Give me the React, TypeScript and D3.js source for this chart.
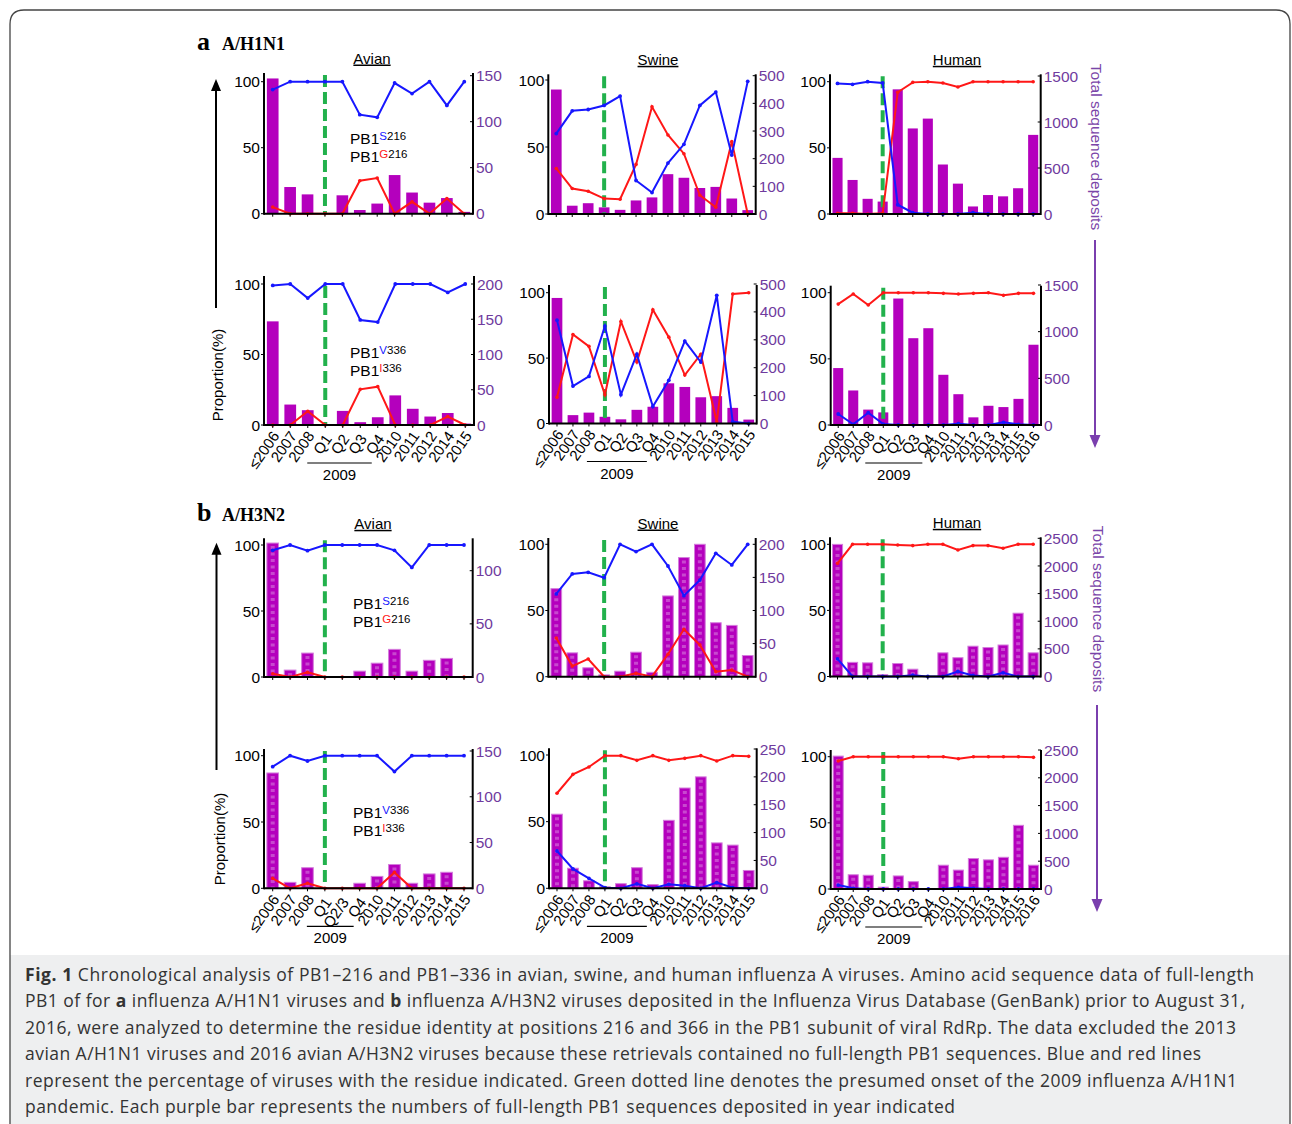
import * as d3 from "d3";

// categories (x axis)
const catsH1Avian = ["≤2006", "2007", "2008", "Q1", "Q2", "Q3", "Q4", "2010", "2011", "2012", "2014", "2015"];
const catsSwine = ["≤2006", "2007", "2008", "Q1", "Q2", "Q3", "Q4", "2010", "2011", "2012", "2013", "2014", "2015"];
const catsHuman = ["≤2006", "2007", "2008", "Q1", "Q2", "Q3", "Q4", "2010", "2011", "2012", "2013", "2014", "2015", "2016"];
const catsH3Avian = ["≤2006", "2007", "2008", "Q1", "Q2/3", "Q4", "2010", "2011", "2012", "2013", "2014", "2015"];

// total sequence deposits (bars, right axis)
const h1AvianCounts = [147, 29, 21, 0, 20, 4, 11, 42, 23, 12, 17, 2];
const h1SwineCounts = [450, 30, 39, 24, 15, 49, 60, 144, 131, 94, 98, 56, 14];
const h1HumanCounts = [610, 370, 165, 135, 1355, 930, 1037, 538, 330, 82, 206, 192, 280, 860];
const h3AvianCounts = [126, 6.5, 22.5, 0, 0, 5.5, 13, 26, 5.5, 15.7, 17.5, 0];
const h3SwineCounts = [133, 36, 13.5, 2.7, 8.3, 37, 6.6, 122, 180, 200, 81.5, 77.5, 32];
const h3HumanCounts = [2390, 256, 247, 33, 235, 132, 0, 428, 340, 548, 524, 570, 1145, 428];

// proportions (%), blue / red
const h1AvianS216 = [94, 100, 100, 100, 100, 75, 73, 99, 91, 100, 82, 100];
const h1AvianG216 = [5, 0, 0, 0, 0, 25, 27, 0, 9, 0, 11.5, 0];
const h1AvianV336 = [99, 100, 90, 100, 100, 74.5, 73, 100, 100, 100, 94, 100];
const h1AvianI336 = [0, 0, 9.7, 0, 0, 25.3, 27.2, 0, 0, 0, 6, 0];
const h1SwineS216 = [60, 77, 78, 81, 88, 25, 16, 38, 52, 81, 91, 44, 99];
const h1SwineG216 = [34, 19, 17, 11.5, 11, 37, 80, 59, 45, 14, 5, 54, 0];
const h1SwineV336 = [79, 28.6, 36, 74.5, 22, 53, 13, 33, 63, 47, 98, 1.3, 0];
const h1SwineI336 = [20, 68, 59, 22, 78, 47, 87, 66, 37, 53, 1.3, 99, 100];
const h1HumanS216 = [98.7, 98, 100, 99, 7, 1, 0, 0, 0, 1, 0, 0, 0, 0];
const h1HumanG216 = [0.5, 0.5, 0, 0.5, 92, 99.5, 100, 99, 96, 100, 100, 100, 100, 100];
const h1HumanV336 = [8.3, 0.5, 9.3, 0.7, 0, 0, 0, 0, 1, 0, 0, 2, 0.5, 0];
const h1HumanI336 = [91.4, 99, 90.7, 100, 100, 100, 100, 99.5, 99, 99.5, 100, 98, 99.5, 99.5];
const h3AvianS216 = [96, 100, 95.7, 100, 100, 100, 100, 96, 83, 100, 100, 100];
const h3AvianG216 = [2.5, 0, 3.5, 0, 0, 0, 0, 0, 0, 0, 0, 0];
const h3AvianV336 = [91.7, 100, 96, 100, 100, 100, 100, 88, 100, 100, 100, 100];
const h3AvianI336 = [7.5, 0, 3.8, 0, 0, 0, 0, 12, 0, 0, 0, 0];
const h3SwineS216 = [62.5, 77.6, 78.8, 74.8, 100, 94.5, 100, 83.6, 61.2, 73, 93.2, 84.4, 100];
const h3SwineG216 = [29.2, 8, 13.4, 0, 0, 2.5, 0, 17, 35.8, 24, 3.8, 5, 0];
const h3SwineV336 = [28, 14.5, 7.5, 0.5, 0, 3.3, 0, 3, 2, 0, 4.3, 0.5, 0];
const h3SwineI336 = [71.3, 85.5, 91, 99.5, 99.5, 96, 99.5, 96, 97.5, 99.5, 95.5, 99.5, 99];
const h3HumanS216 = [13.4, 0, 0, 0, 0, 1, 0, 0, 3.8, 0.8, 0, 2.8, 0, 0];
const h3HumanG216 = [85.6, 100, 100, 100, 99.5, 99, 100, 100, 95.7, 99, 99, 97, 100, 100];
const h3HumanV336 = [3, 0.5, 0, 0, 0, 0, 0, 0, 1.3, 0.5, 0, 0, 0, 0];
const h3HumanI336 = [96.7, 100, 100, 100, 100, 100, 100, 100, 98.5, 100, 100, 100, 100, 99.5];

const captionLines = [
  "Chronological analysis of PB1–216 and PB1–336 in avian, swine, and human influenza A viruses. Amino acid sequence data of full-length",
  "2016, were analyzed to determine the residue identity at positions 216 and 366 in the PB1 subunit of viral RdRp. The data excluded the 2013",
  "avian A/H1N1 viruses and 2016 avian A/H3N2 viruses because these retrievals contained no full-length PB1 sequences. Blue and red lines",
  "represent the percentage of viruses with the residue indicated. Green dotted line denotes the presumed onset of the 2009 influenza A/H1N1",
  "pandemic. Each purple bar represents the numbers of full-length PB1 sequences deposited in year indicated",
];

const SANS = "'Liberation Sans', Arial, Helvetica, sans-serif";
const SERIF = "'Liberation Serif', 'Times New Roman', serif";
const BLUE = "#1717ff";
const RED = "#ff1717";
const GREEN = "#22b14c";
const BAR = "#b400bd";
const PURPLE = "#6f3b9e";

type PanelDef = {
  cats: string[];
  counts: number[];
  blue: number[];
  red: number[];
  xl: number; xr: number; y0: number; y100: number; top: number;
  rRef: number; rRefY: number; rTicks: number[];
  greenTop?: number;
  textured?: boolean;
  title?: string;
  titleX?: number;
  sup?: { a: string; b: string; pos: string; x: number; y: number };
  labels?: boolean;
};

const panels: PanelDef[] = [
  { cats: catsH1Avian, counts: h1AvianCounts, blue: h1AvianS216, red: h1AvianG216,
    xl: 264, xr: 473, y0: 213.7, y100: 81.7, top: 73, rRef: 150, rRefY: 75.7, rTicks: [0, 50, 100, 150],
    title: "Avian", titleX: 372, sup: { a: "S", b: "G", pos: "216", x: 350, y: 144 } },
  { cats: catsSwine, counts: h1SwineCounts, blue: h1SwineS216, red: h1SwineG216,
    xl: 548.3, xr: 755.7, y0: 214, y100: 80, top: 74.3, rRef: 500, rRefY: 75.7, rTicks: [0, 100, 200, 300, 400, 500],
    title: "Swine", titleX: 658 },
  { cats: catsHuman, counts: h1HumanCounts, blue: h1HumanS216, red: h1HumanG216,
    xl: 830, xr: 1040.7, y0: 214, y100: 81.7, top: 74.3, rRef: 1500, rRefY: 76, rTicks: [0, 500, 1000, 1500],
    title: "Human", titleX: 957 },
  { cats: catsH1Avian, counts: h1AvianCounts, blue: h1AvianV336, red: h1AvianI336,
    xl: 264, xr: 474, y0: 425, y100: 284, top: 276, rRef: 200, rRefY: 284, rTicks: [0, 50, 100, 150, 200],
    greenTop: 286, sup: { a: "V", b: "I", pos: "336", x: 350, y: 358 }, labels: true },
  { cats: catsSwine, counts: h1SwineCounts, blue: h1SwineV336, red: h1SwineI336,
    xl: 549, xr: 756.7, y0: 423.5, y100: 292.7, top: 285, rRef: 500, rRefY: 284, rTicks: [0, 100, 200, 300, 400, 500],
    labels: true },
  { cats: catsHuman, counts: h1HumanCounts, blue: h1HumanV336, red: h1HumanI336,
    xl: 830.7, xr: 1041, y0: 425, y100: 292.7, top: 285.7, rRef: 1500, rRefY: 285, rTicks: [0, 500, 1000, 1500],
    labels: true },
  { cats: catsH3Avian, counts: h3AvianCounts, blue: h3AvianS216, red: h3AvianG216,
    xl: 264, xr: 472.7, y0: 677, y100: 545, top: 538.3, rRef: 100, rRefY: 570.7, rTicks: [0, 50, 100],
    textured: true, title: "Avian", titleX: 373, sup: { a: "S", b: "G", pos: "216", x: 353, y: 609 } },
  { cats: catsSwine, counts: h3SwineCounts, blue: h3SwineS216, red: h3SwineG216,
    xl: 548.3, xr: 755.7, y0: 676.7, y100: 544.3, top: 538, rRef: 200, rRefY: 544.3, rTicks: [0, 50, 100, 150, 200],
    textured: true, title: "Swine", titleX: 658 },
  { cats: catsHuman, counts: h3HumanCounts, blue: h3HumanS216, red: h3HumanG216,
    xl: 830, xr: 1040.7, y0: 676.5, y100: 544.3, top: 537.3, rRef: 2500, rRefY: 538.3, rTicks: [0, 500, 1000, 1500, 2000, 2500],
    textured: true, title: "Human", titleX: 957 },
  { cats: catsH3Avian, counts: h3AvianCounts, blue: h3AvianV336, red: h3AvianI336,
    xl: 264, xr: 472.7, y0: 888.3, y100: 755.7, top: 749, rRef: 150, rRefY: 751, rTicks: [0, 50, 100, 150],
    textured: true, sup: { a: "V", b: "I", pos: "336", x: 353, y: 818 }, labels: true },
  { cats: catsSwine, counts: h3SwineCounts, blue: h3SwineV336, red: h3SwineI336,
    xl: 549, xr: 756.7, y0: 888.3, y100: 755, top: 748.3, rRef: 250, rRefY: 749, rTicks: [0, 50, 100, 150, 200, 250],
    textured: true, labels: true },
  { cats: catsHuman, counts: h3HumanCounts, blue: h3HumanV336, red: h3HumanI336,
    xl: 830.7, xr: 1041, y0: 889, y100: 756.7, top: 750, rRef: 2500, rRefY: 750, rTicks: [0, 500, 1000, 1500, 2000, 2500],
    textured: true, labels: true },
];

function Panel({ p }: { p: PanelDef }) {
  const x = d3.scaleBand<string>().domain(p.cats).range([p.xl, p.xr]).paddingInner(0.33).paddingOuter(0.165);
  const cx = (i: number) => (x(p.cats[i]) ?? 0) + x.bandwidth() / 2;
  const yL = d3.scaleLinear().domain([0, 100]).range([p.y0, p.y100]);
  const yR = d3.scaleLinear().domain([0, p.rRef]).range([p.y0, p.rRefY]);
  const line = d3.line<number>().x((_, i) => cx(i)).y((d) => yL(d));
  const q1 = p.cats.indexOf("Q1");
  const q4 = p.cats.indexOf("Q4");

  return (
    <g>
      {p.title && (
        <text x={p.titleX} y={p.top - 9.5} textAnchor="middle" fontFamily={SANS} fontSize={15}
          textDecoration="underline">{p.title}</text>
      )}
      {/* bars */}
      {p.counts.map((v, i) => {
        const bx = x(p.cats[i]) ?? 0;
        const by = yR(v);
        const h = p.y0 - by;
        if (h <= 0) return null;
        return (
          <g key={"b" + i}>
            <rect x={bx} y={by} width={x.bandwidth()} height={h} fill={BAR}
              stroke={p.textured ? "#d47ddc" : "none"} strokeWidth={p.textured ? 1 : 0} />
            {p.textured && h > 6 && (
              <line x1={bx + x.bandwidth() / 2} x2={bx + x.bandwidth() / 2} y1={by + 3} y2={p.y0}
                stroke="#dc8fe2" strokeWidth={4} strokeDasharray="3,3.5" opacity={0.5} />
            )}
          </g>
        );
      })}
      {/* green onset line */}
      <line x1={cx(q1)} x2={cx(q1)} y1={p.greenTop ?? p.top + 2} y2={p.y0} stroke={GREEN} strokeWidth={4}
        strokeDasharray="12,5" />
      {/* lines */}
      <path d={line(p.red) ?? ""} fill="none" stroke={RED} strokeWidth={2} />
      {p.red.map((v, i) => <circle key={"r" + i} cx={cx(i)} cy={yL(v)} r={1.8} fill={RED} />)}
      <path d={line(p.blue) ?? ""} fill="none" stroke={BLUE} strokeWidth={2} />
      {p.blue.map((v, i) => <circle key={"u" + i} cx={cx(i)} cy={yL(v)} r={1.9} fill={BLUE} />)}
      {/* axes */}
      <line x1={p.xl} x2={p.xl} y1={p.top} y2={p.y0 + 1} stroke="#000" strokeWidth={2} />
      <line x1={p.xr} x2={p.xr} y1={p.top} y2={p.y0 + 1} stroke="#000" strokeWidth={2} />
      <line x1={p.xl} x2={p.xr} y1={p.y0} y2={p.y0} stroke="#000" strokeWidth={2} />
      {p.cats.map((c, i) => (
        <line key={"t" + c} x1={cx(i)} x2={cx(i)} y1={p.y0} y2={p.y0 + 3} stroke="#000" strokeWidth={1} />
      ))}
      {[0, 50, 100].map((t) => (
        <g key={"l" + t}>
          <line x1={p.xl - 3} x2={p.xl} y1={yL(t)} y2={yL(t)} stroke="#000" strokeWidth={1} />
          <text x={p.xl - 4} y={yL(t)} dy="0.36em" textAnchor="end" fontFamily={SANS} fontSize={15.5}>{t}</text>
        </g>
      ))}
      {p.rTicks.map((t) => (
        <g key={"rt" + t}>
          <line x1={p.xr - 3} x2={p.xr} y1={yR(t)} y2={yR(t)} stroke="#000" strokeWidth={1} />
          <text x={p.xr + 3} y={yR(t)} dy="0.36em" fontFamily={SANS} fontSize={15.5} fill={PURPLE}>{t}</text>
        </g>
      ))}
      {p.sup && (
        <g fontFamily={SANS} fontSize={15.5}>
          <text x={p.sup.x} y={p.sup.y}>PB1<tspan dy={-4} fontSize={11.5} fill={BLUE}>{p.sup.a}</tspan>
            <tspan fontSize={11.5}>{p.sup.pos}</tspan></text>
          <text x={p.sup.x} y={p.sup.y + 18}>PB1<tspan dy={-4} fontSize={11.5} fill={RED}>{p.sup.b}</tspan>
            <tspan fontSize={11.5}>{p.sup.pos}</tspan></text>
        </g>
      )}
      {p.labels && (
        <g fontFamily={SANS} fontSize={15}>
          {p.cats.map((c, i) => {
            const isQ = c.startsWith("Q");
            return (
              <text key={"x" + c} textAnchor="end" dy="0.35em"
                transform={`translate(${cx(i) + 3},${p.y0 + (isQ ? 11 : 8)}) rotate(-55)`}>{c}</text>
            );
          })}
          <line x1={cx(q1) - 18} x2={cx(q4) - 6} y1={p.y0 + 38} y2={p.y0 + 38} stroke="#000" strokeWidth={1.2} />
          <text x={(cx(q1) + cx(q4)) / 2 - 12} y={p.y0 + 55} textAnchor="middle">2009</text>
        </g>
      )}
    </g>
  );
}

function UpArrow({ x, tip, bottom }: { x: number; tip: number; bottom: number }) {
  return (
    <g>
      <line x1={x} x2={x} y1={tip + 8} y2={bottom} stroke="#000" strokeWidth={2} />
      <path d={`M${x - 5},${tip + 12} L${x},${tip} L${x + 5},${tip + 12} Z`} fill="#000" />
    </g>
  );
}

function DownArrow({ x, top, tip }: { x: number; top: number; tip: number }) {
  return (
    <g>
      <line x1={x} x2={x} y1={top} y2={tip - 8} stroke="#7a3fae" strokeWidth={2} />
      <path d={`M${x - 5.5},${tip - 13} L${x},${tip} L${x + 5.5},${tip - 13} Z`} fill="#7a3fae" />
    </g>
  );
}

export default function App() {
  const widths = [1229, 1211, 1176, 1212, 930];
  const capY = (i: number) => 981 + i * 26.4;
  return (
    <div style={{ position: "absolute", left: 0, top: 0 }}>
      <svg width={1292} height={1124} style={{ display: "block" }}>
        <rect x={0} y={0} width={1292} height={1124} fill="#fff" />
        <rect x={10} y={955} width={1280} height={170} fill="#eeeff0" />
        <path d="M10,1124 V24 Q10,10 24,10 H1276 Q1290,10 1290,24 V1124" fill="none" stroke="#444" strokeWidth={1.3} />

        {/* section headings */}
        <text x={197} y={50} fontFamily={SERIF} fontWeight={700} fontSize={26}>a</text>
        <text x={222} y={50} fontFamily={SERIF} fontWeight={700} fontSize={18}>A/H1N1</text>
        <text x={197} y={521} fontFamily={SERIF} fontWeight={700} fontSize={26}>b</text>
        <text x={222} y={521} fontFamily={SERIF} fontWeight={700} fontSize={18}>A/H3N2</text>

        {panels.map((p, i) => <Panel key={i} p={p} />)}

        <UpArrow x={216} tip={79} bottom={308} />
        <UpArrow x={216.5} tip={542.7} bottom={770} />
        <text transform="translate(223,375) rotate(-90)" textAnchor="middle" fontFamily={SANS} fontSize={15}>Proportion(%)</text>
        <text transform="translate(225,839) rotate(-90)" textAnchor="middle" fontFamily={SANS} fontSize={15}>Proportion(%)</text>

        <text transform="translate(1091,147) rotate(90)" textAnchor="middle" fontFamily={SANS} fontSize={15.5} fill="#7a45a8">Total sequence deposits</text>
        <text transform="translate(1093,609) rotate(90)" textAnchor="middle" fontFamily={SANS} fontSize={15.5} fill="#7a45a8">Total sequence deposits</text>
        <DownArrow x={1095} top={240} tip={448} />
        <DownArrow x={1097} top={705} tip={912} />

        {/* caption */}
        <g fontFamily="'Open Sans', 'Noto Sans', sans-serif" fontSize={17.5} fill="#333">
          <text x={25} y={capY(0)} textLength={1229} lengthAdjust="spacing">
            <tspan fontWeight={700}>Fig. 1</tspan> {captionLines[0]}
          </text>
          <text x={25} y={capY(1)} textLength={1220} lengthAdjust="spacing">
            PB1 of for <tspan fontWeight={700}>a</tspan> influenza A/H1N1 viruses and <tspan fontWeight={700}>b</tspan> influenza A/H3N2 viruses deposited in the Influenza Virus Database (GenBank) prior to August 31,
          </text>
          {captionLines.slice(1).map((l, i) => (
            <text key={i} x={25} y={capY(i + 2)} textLength={widths[i + 1]} lengthAdjust="spacing">{l}</text>
          ))}
        </g>
      </svg>
    </div>
  );
}
